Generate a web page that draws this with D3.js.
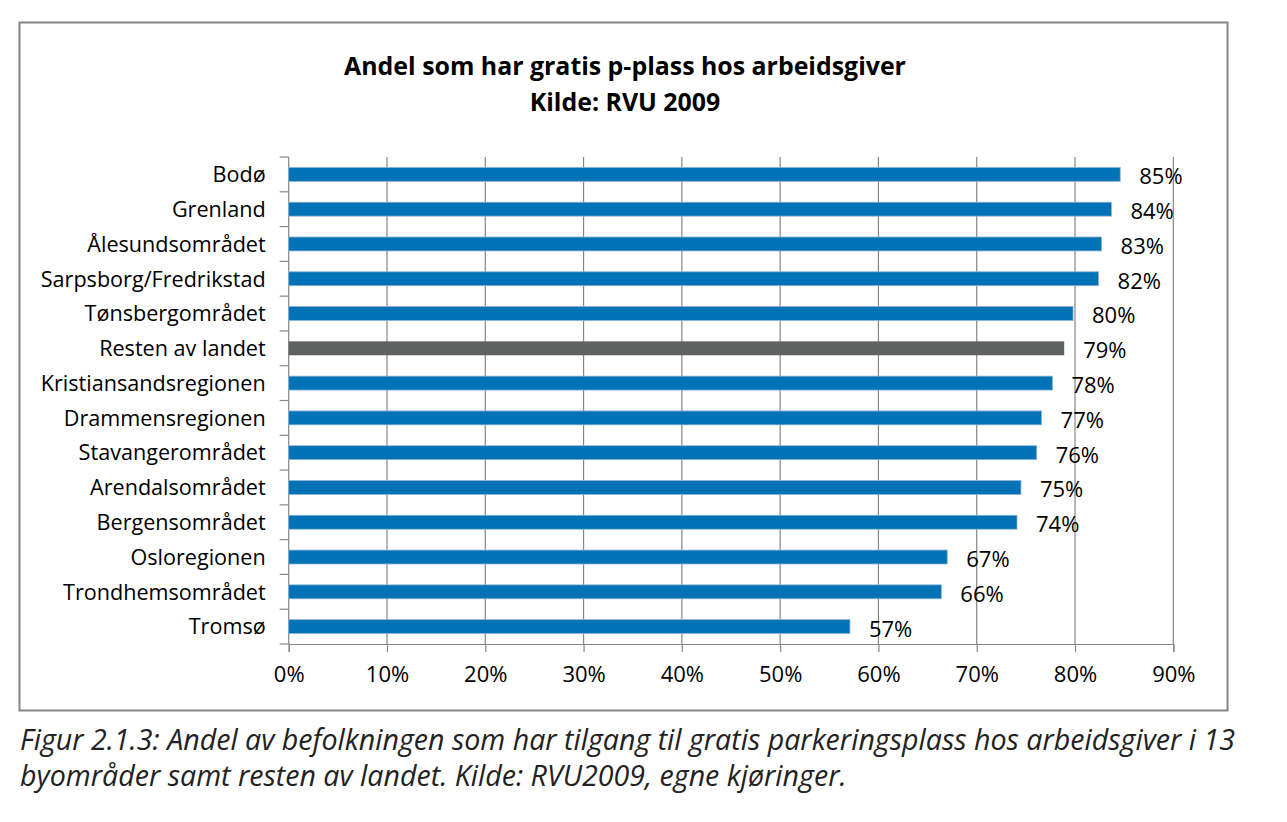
<!DOCTYPE html>
<html><head><meta charset="utf-8">
<script src="https://cdn.jsdelivr.net/npm/d3@7"></script>
<style>body{margin:0;background:#fff;} svg{display:block;}</style>
</head><body>
<script>
const categories = ["Bodø","Grenland","Ålesundsområdet","Sarpsborg/Fredrikstad","Tønsbergområdet","Resten av landet","Kristiansandsregionen","Drammensregionen","Stavangerområdet","Arendalsområdet","Bergensområdet","Osloregionen","Trondhemsområdet","Tromsø"];
const values = [84.6, 83.7, 82.7, 82.4, 79.8, 78.9, 77.7, 76.6, 76.1, 74.5, 74.1, 67.0, 66.4, 57.1];
const valueLabels = ["85%","84%","83%","82%","80%","79%","78%","77%","76%","75%","74%","67%","66%","57%"];
const highlight = ["Resten av landet"];
const xTicks = [0,10,20,30,40,50,60,70,80,90];
const titleLines = ["Andel som har gratis p-plass hos arbeidsgiver","Kilde: RVU 2009"];
const captionLines = ["Figur 2.1.3: Andel av befolkningen som har tilgang til gratis parkeringsplass hos arbeidsgiver i 13","byområder samt resten av landet. Kilde: RVU2009, egne kjøringer."];

const W=1287,H=822;
const svg=d3.select("body").append("svg").attr("width",W).attr("height",H);
const font="'Open Sans', sans-serif";

svg.append("rect").attr("x",19.5).attr("y",22.5).attr("width",1208).attr("height",688)
  .attr("fill","#fff").attr("stroke","#868686").attr("stroke-width",2);

svg.append("g").selectAll("text").data(titleLines).join("text")
  .attr("x",625).attr("y",(d,i)=>75+i*36).attr("text-anchor","middle")
  .attr("font-family",font).attr("font-weight","bold").attr("font-size",24.9).attr("fill","#000").text(d=>d);

const pL=288.7,pR=1173.3,pT=157,pB=644;
const x=d3.scaleLinear().domain([0,90]).range([pL,pR]);
const y=d3.scaleBand().domain(categories).range([pT,pB]).paddingInner(0.6).paddingOuter(0.3);

// grid
svg.append("g").selectAll("line").data(xTicks.slice(1)).join("line")
  .attr("x1",d=>x(d)).attr("x2",d=>x(d)).attr("y1",pT).attr("y2",pB)
  .attr("stroke","#868686").attr("stroke-width",1.2);

// x axis
const xa=svg.append("g").attr("transform",`translate(0,${pB})`)
  .call(d3.axisBottom(x).tickValues(xTicks).tickFormat(d=>d+"%").tickSize(8).tickPadding(14));
xa.select(".domain").attr("stroke","#868686").attr("stroke-width",1.2);
xa.selectAll(".tick line").attr("stroke","#868686").attr("stroke-width",1.2);
xa.selectAll("text").attr("font-family",font).attr("font-size",22).attr("fill","#000");

// y axis line + ticks at band boundaries
const bounds=d3.range(categories.length+1).map(i=>pT+i*(pB-pT)/categories.length);
svg.append("line").attr("x1",pL).attr("x2",pL).attr("y1",pT).attr("y2",pB)
  .attr("stroke","#868686").attr("stroke-width",1.2);
svg.append("g").selectAll("line").data(bounds).join("line")
  .attr("x1",pL-9).attr("x2",pL).attr("y1",d=>d).attr("y2",d=>d)
  .attr("stroke","#868686").attr("stroke-width",1.2);

// category labels
svg.append("g").selectAll("text").data(categories).join("text")
  .attr("x",pL-23).attr("y",d=>y(d)+y.bandwidth()/2).attr("dy","0.36em")
  .attr("text-anchor","end").attr("font-family",font).attr("font-size",21.6).attr("fill","#000").text(d=>d);

// bars
svg.append("g").selectAll("rect").data(categories).join("rect")
  .attr("x",x(0)).attr("y",(d)=>y(d)).attr("height",y.bandwidth())
  .attr("width",(d,i)=>x(values[i])-x(0))
  .attr("fill",d=>highlight.includes(d)?"#5f6261":"#0072B5")
  .attr("stroke",d=>highlight.includes(d)?"none":"#8db3d6").attr("stroke-width",0.8);

// value labels
svg.append("g").selectAll("text").data(categories).join("text")
  .attr("x",(d,i)=>x(values[i])+19).attr("y",d=>y(d)+y.bandwidth()/2+2).attr("dy","0.36em")
  .attr("font-family",font).attr("font-size",22).attr("fill","#000").text((d,i)=>valueLabels[i]);

// caption
svg.append("g").selectAll("text").data(captionLines).join("text")
  .attr("x",20).attr("y",(d,i)=>750+i*36)
  .attr("font-family",font).attr("font-style","italic").attr("font-size",28.6).attr("fill","#222").text(d=>d);
</script>
</body></html>
